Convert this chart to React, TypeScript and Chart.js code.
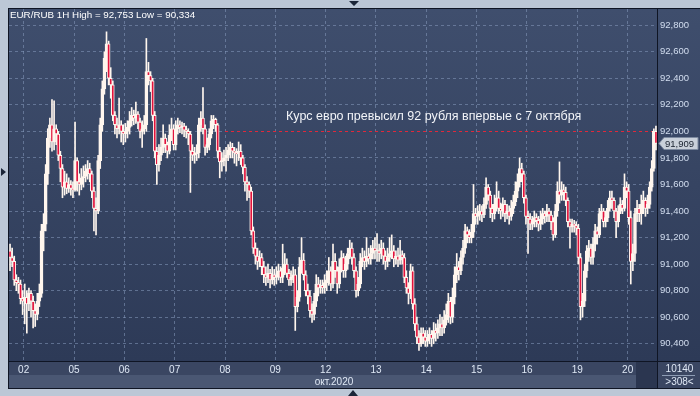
import { useEffect, useRef } from "react";
import { Chart, registerables } from "chart.js";

Chart.register(...registerables);

// ---------- data ----------
const headerText = "EUR/RUB 1H High = 92,753 Low = 90,334";
const annotationText = "Курс евро превысил 92 рубля впервые с 7 октября";
const monthLabel = "окт.2020";
const footerTop = "10140";
const footerBottom = ">308<";

const dayLabels = ["02", "05", "06", "07", "08", "09", "12", "13", "14", "15", "16", "19", "20"];
const dayStartIndex = [7, 31, 55, 79, 103, 127, 151, 175, 199, 223, 247, 271, 295];
const yTicks = [90.4, 90.6, 90.8, 91.0, 91.2, 91.4, 91.6, 91.8, 92.0, 92.2, 92.4, 92.6, 92.8];
const refLevel = 92.0;
const refStartIndex = 103;

const opens = [
  91.10, 91.05, 91.02, 90.88, 90.86, 90.85, 90.74,
  90.72, 90.75, 90.70, 90.78, 90.72, 90.65, 90.62, 90.72, 90.78, 91.25, 91.30, 91.68, 91.95, 92.05, 91.92, 92.02, 91.98, 91.82, 91.72, 91.58, 91.62, 91.57, 91.60, 91.57,
  91.56, 91.78, 91.62, 91.60, 91.65, 91.66, 91.70, 91.72, 91.68, 91.55, 91.42, 91.40, 91.78, 92.05, 92.32, 92.55, 92.66, 92.40, 92.35, 92.12, 92.05, 92.02, 92.05, 92.00,
  91.98, 92.00, 92.03, 92.08, 92.12, 92.10, 92.13, 92.07, 92.00, 92.02, 92.05, 92.45, 92.42, 92.38, 92.12, 91.85, 91.75, 91.82, 91.88, 91.95, 91.90, 91.85, 91.97, 92.02,
  91.90, 92.02, 92.05, 92.03, 92.04, 92.01, 92.00, 91.98, 91.85, 91.82, 91.83, 91.84, 92.05, 92.10, 92.02, 91.88, 91.90, 91.98, 92.08, 92.09, 92.05, 91.85, 91.77, 91.78,
  91.80, 91.82, 91.86, 91.88, 91.85, 91.84, 91.83, 91.85, 91.80, 91.73, 91.62, 91.60, 91.55, 91.25, 91.12, 91.06, 91.02, 91.05, 90.98, 90.92, 90.90, 90.93, 90.88, 90.92,
  90.90, 90.92, 90.95, 90.90, 90.97, 91.00, 90.93, 90.88, 90.90, 90.92, 90.68, 90.75, 90.98, 91.03, 90.92, 90.80, 90.76, 90.65, 90.62, 90.72, 90.85, 90.82, 90.84, 90.82,
  90.86, 90.88, 90.95, 90.85, 91.02, 90.95, 90.85, 90.98, 91.05, 90.95, 91.00, 91.08, 91.12, 91.05, 90.95, 90.80, 90.85, 91.02, 91.05, 91.02, 91.06, 91.04, 91.08, 91.12,
  91.10, 91.10, 91.08, 91.12, 91.06, 91.02, 91.05, 91.08, 91.10, 91.04, 91.06, 91.03, 91.07, 91.05, 90.90, 90.82, 90.78, 90.95, 90.70, 90.55, 90.45, 90.40, 90.48, 90.45,
  90.42, 90.45, 90.47, 90.44, 90.50, 90.48, 90.52, 90.55, 90.52, 90.58, 90.62, 90.72, 90.60, 90.75, 90.92, 90.98, 90.95, 91.05, 91.12, 91.25, 91.22, 91.20, 91.24, 91.38,
  91.36, 91.38, 91.40, 91.37, 91.45, 91.58, 91.52, 91.42, 91.38, 91.45, 91.50, 91.42, 91.40, 91.45, 91.38, 91.40, 91.36, 91.42, 91.47, 91.55, 91.62, 91.72, 91.68, 91.50,
  91.36, 91.34, 91.30, 91.32, 91.35, 91.33, 91.30, 91.34, 91.38, 91.36, 91.40, 91.37, 91.32, 91.22, 91.40, 91.55, 91.52, 91.56, 91.54, 91.48, 91.32, 91.28, 91.30, 91.29,
  91.27, 91.05, 90.68, 90.72, 90.95, 91.10, 91.12, 91.05, 91.15, 91.25, 91.22, 91.38, 91.40, 91.32, 91.35, 91.42, 91.50, 91.48, 91.40, 91.32, 91.40, 91.45, 91.42, 91.58,
  91.55, 91.35, 91.02, 91.08, 91.38, 91.42, 91.38, 91.45, 91.48, 91.42, 91.45, 91.58, 91.72, 92.00,
];

const closes = [
  91.05, 91.02, 90.88, 90.86, 90.85, 90.74, 90.72,
  90.75, 90.70, 90.78, 90.72, 90.65, 90.62, 90.72, 90.78, 91.25, 91.30, 91.68, 91.95, 92.05, 91.92, 92.02, 91.98, 91.82, 91.72, 91.58, 91.62, 91.57, 91.60, 91.57, 91.56,
  91.78, 91.62, 91.60, 91.65, 91.66, 91.70, 91.72, 91.68, 91.55, 91.42, 91.40, 91.78, 92.05, 92.32, 92.55, 92.66, 92.40, 92.35, 92.12, 92.05, 92.02, 92.05, 92.00, 91.98,
  92.00, 92.03, 92.08, 92.12, 92.10, 92.13, 92.07, 92.00, 92.02, 92.05, 92.45, 92.42, 92.38, 92.12, 91.85, 91.75, 91.82, 91.88, 91.95, 91.90, 91.85, 91.97, 92.02, 91.90,
  92.02, 92.05, 92.03, 92.04, 92.01, 92.00, 91.98, 91.85, 91.82, 91.83, 91.84, 92.05, 92.10, 92.02, 91.88, 91.90, 91.98, 92.08, 92.09, 92.05, 91.85, 91.77, 91.78, 91.80,
  91.82, 91.86, 91.88, 91.85, 91.84, 91.83, 91.85, 91.80, 91.73, 91.62, 91.60, 91.55, 91.25, 91.12, 91.06, 91.02, 91.05, 90.98, 90.92, 90.90, 90.93, 90.88, 90.92, 90.90,
  90.92, 90.95, 90.90, 90.97, 91.00, 90.93, 90.88, 90.90, 90.92, 90.68, 90.75, 90.98, 91.03, 90.92, 90.80, 90.76, 90.65, 90.62, 90.72, 90.85, 90.82, 90.84, 90.82, 90.86,
  90.88, 90.95, 90.85, 91.02, 90.95, 90.85, 90.98, 91.05, 90.95, 91.00, 91.08, 91.12, 91.05, 90.95, 90.80, 90.85, 91.02, 91.05, 91.02, 91.06, 91.04, 91.08, 91.12, 91.10,
  91.10, 91.08, 91.12, 91.06, 91.02, 91.05, 91.08, 91.10, 91.04, 91.06, 91.03, 91.07, 91.05, 90.90, 90.82, 90.78, 90.95, 90.70, 90.55, 90.45, 90.40, 90.48, 90.45, 90.42,
  90.45, 90.47, 90.44, 90.50, 90.48, 90.52, 90.55, 90.52, 90.58, 90.62, 90.72, 90.60, 90.75, 90.92, 90.98, 90.95, 91.05, 91.12, 91.25, 91.22, 91.20, 91.24, 91.38, 91.36,
  91.38, 91.40, 91.37, 91.45, 91.58, 91.52, 91.42, 91.38, 91.45, 91.50, 91.42, 91.40, 91.45, 91.38, 91.40, 91.36, 91.42, 91.47, 91.55, 91.62, 91.72, 91.68, 91.50, 91.36,
  91.34, 91.30, 91.32, 91.35, 91.33, 91.30, 91.34, 91.38, 91.36, 91.40, 91.37, 91.32, 91.22, 91.40, 91.55, 91.52, 91.56, 91.54, 91.48, 91.32, 91.28, 91.30, 91.29, 91.27,
  91.05, 90.68, 90.72, 90.95, 91.10, 91.12, 91.05, 91.15, 91.25, 91.22, 91.38, 91.40, 91.32, 91.35, 91.42, 91.50, 91.48, 91.40, 91.32, 91.40, 91.45, 91.42, 91.58, 91.55,
  91.35, 91.02, 91.08, 91.38, 91.42, 91.38, 91.45, 91.48, 91.42, 91.45, 91.58, 91.72, 92.00, 91.909,
];

const highs = [
  91.15, 91.12, 91.06, 90.92, 90.90, 90.88, 90.80,
  90.85, 90.80, 90.82, 90.80, 90.76, 90.70, 90.78, 90.85, 91.30, 91.38, 91.75, 92.02, 92.10, 92.24, 92.23, 92.05, 92.00, 91.85, 91.75, 91.70, 91.68, 91.65, 91.63, 91.62,
  92.07, 91.80, 91.68, 91.72, 91.74, 91.75, 91.78, 91.76, 91.70, 91.58, 91.50, 91.82, 92.10, 92.38, 92.60, 92.75, 92.68, 92.48, 92.38, 92.15, 92.10, 92.25, 92.08, 92.05,
  92.06, 92.08, 92.15, 92.18, 92.16, 92.22, 92.15, 92.10, 92.08, 92.12, 92.70, 92.52, 92.45, 92.40, 92.15, 91.88, 91.90, 91.95, 92.05, 91.98, 91.92, 92.05, 92.10, 92.05,
  92.08, 92.10, 92.08, 92.07, 92.06, 92.04, 92.02, 92.00, 91.90, 91.88, 91.90, 92.10, 92.15, 92.33, 92.05, 91.95, 92.02, 92.12, 92.12, 92.10, 92.06, 91.88, 91.84, 91.86,
  91.88, 91.90, 91.92, 91.91, 91.88, 91.87, 91.92, 91.90, 91.82, 91.75, 91.66, 91.62, 91.58, 91.28, 91.16, 91.12, 91.10, 91.08, 91.02, 90.98, 91.00, 90.96, 90.98, 90.96,
  90.98, 91.00, 90.98, 91.15, 91.08, 91.04, 90.96, 90.95, 90.98, 90.96, 90.80, 91.05, 91.20, 91.08, 90.95, 90.85, 90.80, 90.70, 90.78, 90.92, 90.90, 90.88, 90.88, 90.92,
  90.95, 91.05, 90.98, 91.15, 91.08, 90.98, 91.04, 91.10, 91.08, 91.06, 91.12, 91.18, 91.16, 91.08, 90.98, 90.90, 91.08, 91.12, 91.10, 91.20, 91.12, 91.14, 91.18, 91.20,
  91.23, 91.15, 91.18, 91.16, 91.10, 91.12, 91.20, 91.22, 91.14, 91.10, 91.12, 91.18, 91.10, 91.08, 90.95, 90.86, 91.00, 90.98, 90.74, 90.60, 90.50, 90.52, 90.52, 90.50,
  90.50, 90.52, 90.50, 90.56, 90.55, 90.58, 90.62, 90.60, 90.65, 90.70, 90.78, 90.75, 90.82, 90.98, 91.08, 91.02, 91.10, 91.18, 91.30, 91.28, 91.26, 91.30, 91.60, 91.42,
  91.44, 91.45, 91.44, 91.50, 91.65, 91.60, 91.55, 91.45, 91.52, 91.62, 91.55, 91.46, 91.50, 91.48, 91.45, 91.44, 91.48, 91.52, 91.62, 91.68, 91.80, 91.76, 91.70, 91.52,
  91.40, 91.38, 91.36, 91.40, 91.38, 91.36, 91.40, 91.42, 91.40, 91.45, 91.42, 91.40, 91.35, 91.45, 91.62, 91.77, 91.62, 91.60, 91.58, 91.50, 91.34, 91.34, 91.33, 91.32,
  91.30, 91.08, 90.78, 91.00, 91.14, 91.18, 91.15, 91.20, 91.30, 91.28, 91.42, 91.45, 91.42, 91.40, 91.48, 91.55, 91.55, 91.50, 91.42, 91.44, 91.50, 91.48, 91.68, 91.62,
  91.60, 91.40, 91.15, 91.42, 91.48, 91.45, 91.52, 91.55, 91.50, 91.52, 91.62, 91.78, 92.02, 92.04,
];

const lows = [
  90.95, 90.98, 90.84, 90.80, 90.78, 90.70, 90.62,
  90.55, 90.48, 90.65, 90.60, 90.52, 90.53, 90.58, 90.68, 90.75, 91.10, 91.25, 91.60, 91.88, 91.85, 91.86, 91.90, 91.78, 91.62, 91.50, 91.52, 91.53, 91.54, 91.52, 91.50,
  91.55, 91.55, 91.52, 91.56, 91.58, 91.62, 91.64, 91.62, 91.50, 91.25, 91.22, 91.38, 91.72, 92.00, 92.28, 92.45, 92.35, 92.25, 92.08, 91.98, 91.95, 91.98, 91.92, 91.90,
  91.92, 91.95, 91.98, 92.04, 92.05, 92.06, 92.02, 91.95, 91.88, 91.98, 92.00, 92.35, 92.30, 92.08, 91.80, 91.60, 91.70, 91.78, 91.84, 91.84, 91.80, 91.83, 91.93, 91.86,
  91.86, 91.98, 91.99, 91.98, 91.96, 91.95, 91.90, 91.54, 91.78, 91.76, 91.78, 91.80, 92.00, 91.98, 91.82, 91.84, 91.86, 91.95, 92.02, 92.00, 91.80, 91.65, 91.70, 91.74,
  91.70, 91.78, 91.80, 91.80, 91.76, 91.74, 91.78, 91.75, 91.68, 91.55, 91.48, 91.50, 91.22, 91.08, 91.00, 90.96, 90.98, 90.92, 90.86, 90.84, 90.86, 90.82, 90.85, 90.84,
  90.85, 90.88, 90.86, 90.86, 90.92, 90.90, 90.84, 90.84, 90.86, 90.50, 90.64, 90.72, 90.93, 90.88, 90.76, 90.70, 90.60, 90.56, 90.58, 90.68, 90.76, 90.78, 90.78, 90.78,
  90.80, 90.84, 90.80, 90.82, 90.90, 90.78, 90.82, 90.94, 90.90, 90.90, 90.96, 91.04, 91.00, 90.90, 90.75, 90.76, 90.82, 90.98, 90.96, 90.98, 91.00, 91.00, 91.04, 91.04,
  91.02, 91.02, 91.04, 91.00, 90.96, 90.98, 91.02, 91.04, 90.98, 91.00, 90.98, 91.00, 91.00, 90.86, 90.78, 90.70, 90.74, 90.66, 90.50, 90.40, 90.35, 90.38, 90.40, 90.38,
  90.38, 90.40, 90.38, 90.40, 90.42, 90.44, 90.46, 90.46, 90.48, 90.54, 90.56, 90.55, 90.56, 90.70, 90.86, 90.88, 90.92, 91.00, 91.08, 91.16, 91.16, 91.16, 91.20, 91.30,
  91.30, 91.33, 91.32, 91.35, 91.42, 91.48, 91.35, 91.32, 91.34, 91.40, 91.38, 91.34, 91.36, 91.32, 91.34, 91.30, 91.33, 91.38, 91.44, 91.50, 91.58, 91.62, 91.46, 91.30,
  91.08, 91.26, 91.26, 91.28, 91.28, 91.25, 91.26, 91.30, 91.31, 91.32, 91.32, 91.26, 91.18, 91.20, 91.36, 91.46, 91.48, 91.48, 91.44, 91.28, 91.12, 91.24, 91.24, 91.22,
  91.00, 90.58, 90.60, 90.68, 90.90, 91.02, 91.00, 91.00, 91.10, 91.15, 91.20, 91.34, 91.28, 91.28, 91.32, 91.40, 91.42, 91.35, 91.20, 91.28, 91.38, 91.38, 91.40, 91.50,
  91.30, 90.85, 90.95, 91.02, 91.32, 91.32, 91.30, 91.38, 91.36, 91.38, 91.42, 91.55, 91.70, 91.86,
];

// ---------- styling ----------
const FONT = "'Liberation Sans', Arial, sans-serif";
const FRAME = "#bcc7d6";
const LINE = "#0f1524";
const CREAM = "#fff6ee";
const RED = "#e2123c";
const TEXT = "#dfe8f5";

const fmt = (v: number) => v.toFixed(3).replace(".", ",");

const decorPlugin = {
  id: "decor",
  beforeDraw(chart: any) {
    const { ctx, chartArea: a, width: W, height: H } = chart;
    ctx.save();
    ctx.fillStyle = FRAME;
    ctx.fillRect(0, 0, W, H);
    const g = ctx.createLinearGradient(0, a.top, 0, a.bottom);
    g.addColorStop(0, "#3f4e6d");
    g.addColorStop(1, "#2d3a57");
    ctx.fillStyle = g;
    ctx.fillRect(a.left, a.top, W - a.left, a.bottom - a.top);
    ctx.fillStyle = "#3a4662";
    ctx.fillRect(a.left, a.bottom, W - a.left, 14);
    ctx.fillStyle = "#4a5773";
    ctx.fillRect(a.left, a.bottom + 14, a.right - a.left, 13);
    ctx.fillStyle = "#3a4662";
    ctx.fillRect(a.right, a.bottom + 14, W - a.right, 13);
    ctx.fillStyle = "#2b3650";
    ctx.fillRect(a.right - 21, a.bottom + 1, 21, 26);
    ctx.restore();
  },
  beforeDatasetsDraw(chart: any) {
    const { ctx, chartArea: a, scales } = chart;
    const py = Math.round(scales.y.getPixelForValue(refLevel)) + 0.5;
    const px = scales.x.getPixelForValue(refStartIndex - 0.5);
    ctx.save();
    ctx.strokeStyle = "#e0283a";
    ctx.lineWidth = 1;
    ctx.setLineDash([3, 3]);
    ctx.beginPath();
    ctx.moveTo(px, py);
    ctx.lineTo(a.right, py);
    ctx.stroke();
    ctx.restore();
  },
  afterDraw(chart: any) {
    const { ctx, chartArea: a, width: W, scales } = chart;
    ctx.save();
    // frame lines
    ctx.strokeStyle = LINE;
    ctx.lineWidth = 1;
    ctx.beginPath();
    ctx.moveTo(8, 8.5); ctx.lineTo(W, 8.5);
    ctx.moveTo(8.5, 8); ctx.lineTo(8.5, a.bottom + 28);
    ctx.moveTo(8, a.bottom + 0.5); ctx.lineTo(W, a.bottom + 0.5);
    ctx.moveTo(8, a.bottom + 27.5); ctx.lineTo(W, a.bottom + 27.5);
    ctx.moveTo(a.right + 0.5, 8); ctx.lineTo(a.right + 0.5, a.bottom + 28);
    ctx.stroke();

    // header
    ctx.fillStyle = "#ffffff";
    ctx.font = `9.8px ${FONT}`;
    ctx.textBaseline = "middle";
    ctx.textAlign = "left";
    ctx.fillText(headerText, 10, 15);

    // annotation
    ctx.font = `12.5px ${FONT}`;
    ctx.fillStyle = "#f2f4f8";
    ctx.fillText(annotationText, 286, 117);

    // month label
    ctx.font = `10px ${FONT}`;
    ctx.fillStyle = TEXT;
    ctx.textAlign = "center";
    ctx.fillText(monthLabel, 334, a.bottom + 21);

    // footer cell
    const fx = (a.right + W) / 2 + 1;
    ctx.fillText(footerTop, fx, a.bottom + 8);
    ctx.fillText(footerBottom, fx, a.bottom + 21);
    ctx.strokeStyle = "#8e9db5";
    ctx.beginPath();
    ctx.moveTo(a.right + 5, a.bottom + 14.5);
    ctx.lineTo(W - 5, a.bottom + 14.5);
    ctx.stroke();

    // price label
    const last = closes[closes.length - 1];
    const py = Math.round(scales.y.getPixelForValue(last)) + 0.5;
    ctx.fillStyle = "#c9d0da";
    ctx.strokeStyle = "#7d8aa0";
    ctx.beginPath();
    ctx.moveTo(a.right + 2, py);
    ctx.lineTo(a.right + 7, py - 6);
    ctx.lineTo(W - 2, py - 6);
    ctx.lineTo(W - 2, py + 6);
    ctx.lineTo(a.right + 7, py + 6);
    ctx.closePath();
    ctx.fill();
    ctx.stroke();
    ctx.fillStyle = "#18202e";
    ctx.textAlign = "left";
    ctx.font = `9.5px ${FONT}`;
    ctx.fillText(fmt(last), a.right + 8, py + 0.5);

    // small triangles on the frame
    ctx.fillStyle = "#1b2538";
    ctx.beginPath();
    ctx.moveTo(349, 1); ctx.lineTo(359, 1); ctx.lineTo(354, 6); ctx.closePath();
    ctx.moveTo(348, 396); ctx.lineTo(358, 396); ctx.lineTo(353, 390); ctx.closePath();
    ctx.moveTo(1, 168); ctx.lineTo(6, 172); ctx.lineTo(1, 176); ctx.closePath();
    ctx.fill();
    ctx.restore();
  },
};

export default function App() {
  const ref = useRef<HTMLCanvasElement | null>(null);

  useEffect(() => {
    document.body.style.margin = "0";
    const canvas = ref.current;
    if (!canvas) return;

    const n = closes.length;
    const wickData = highs.map((h, i) => ({ x: i, y: [lows[i], h] }));
    const bodyData = opens.map((o, i) => ({ x: i, y: [o, closes[i]] }));
    const bodyColors = opens.map((o, i) => (closes[i] < o ? RED : CREAM));

    const chart = new Chart(canvas, {
      type: "bar",
      data: {
        datasets: [
          {
            data: bodyData as any,
            backgroundColor: bodyColors,
            borderColor: CREAM,
            borderWidth: 1,
            borderSkipped: false,
            barThickness: 3,
            minBarLength: 1,
            grouped: false,
            order: 0,
          } as any,
          {
            data: wickData as any,
            backgroundColor: CREAM,
            borderWidth: 0,
            barThickness: 1,
            grouped: false,
            order: 1,
          } as any,
        ],
      },
      options: {
        animation: false,
        responsive: false,
        devicePixelRatio: 1,
        events: [],
        layout: { padding: { left: 9, top: 9, right: 0, bottom: 8 } },
        plugins: { legend: { display: false }, tooltip: { enabled: false } },
        scales: {
          x: {
            type: "linear",
            min: -0.5,
            max: n - 0.5,
            offset: false,
            afterBuildTicks: (s: any) => {
              s.ticks = dayStartIndex.map((i) => ({ value: i - 0.5 }));
            },
            afterFit: (s: any) => {
              s.height = 27;
            },
            grid: {
              color: "rgba(135,155,190,0.55)",
              lineWidth: 1,
              drawTicks: false,
              offset: false,
            },
            border: { display: false, dash: [3, 3] },
            ticks: {
              autoSkip: false,
              maxRotation: 0,
              padding: 3,
              color: TEXT,
              font: { family: FONT, size: 10 },
              callback: (_v: any, idx: number) => dayLabels[idx],
            },
          },
          y: {
            type: "linear",
            position: "right",
            min: 90.27,
            max: 92.922,
            afterBuildTicks: (s: any) => {
              s.ticks = yTicks.map((v) => ({ value: v }));
            },
            afterFit: (s: any) => {
              s.width = 43;
            },
            grid: {
              color: "rgba(135,155,190,0.55)",
              lineWidth: 1,
              drawTicks: false,
            },
            border: { display: false, dash: [3, 3] },
            ticks: {
              padding: 3,
              color: "#d3def0",
              font: { family: FONT, size: 9.5 },
              callback: (v: any) => fmt(Number(v)),
            },
          },
        },
      } as any,
      plugins: [decorPlugin],
    });

    return () => chart.destroy();
  }, []);

  return <canvas ref={ref} width={700} height={396} style={{ display: "block" }} />;
}
